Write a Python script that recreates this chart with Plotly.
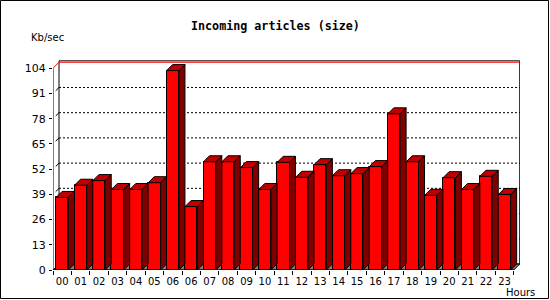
import plotly.graph_objects as go

# ---------------- data ----------------
hour_labels = ["00", "01", "02", "03", "04", "05", "06", "06", "07", "08", "09", "10",
               "11", "12", "13", "14", "15", "16", "17", "18", "19", "20", "21", "22", "23"]
kb_per_sec = [37.4, 43.7, 46.1, 41.5, 41.5, 45.0, 102.8, 32.7, 55.8, 55.8, 52.8, 41.5,
              55.5, 47.8, 54.3, 48.6, 49.7, 53.3, 80.5, 55.8, 38.5, 47.6, 41.5, 48.3, 38.9]
y_ticks = [0, 13, 26, 39, 52, 65, 78, 91, 104]
y_max_line = 104

title_text = "Incoming articles (size)"
y_title = "Kb/sec"
x_title = "Hours"

# ---------------- geometry ----------------
W, H = 550, 300
L, R, T, B = 53, 30, 59, 30
pw, ph = W - L - R, H - T - B
px_per_y = 1.94
x_range = [-0.5, 24.84]
y_range = [0, ph / px_per_y]
px_per_x = pw / (x_range[1] - x_range[0])
dx = 6 / px_per_x          # 3-D depth in data units
dy = 6 / px_per_y
bw = 0.667                 # front face width
n = len(kb_per_sec)
idx = list(range(n))
x_lo, x_hi = -0.5, n - 0.5
panel_top = y_max_line + dy + 1.4 / px_per_y * 1.0 + 0.0

def px_x(p):
    return (p - L) / pw

def px_y(p):
    return (H - B - p) / ph

FONT = "DejaVu Sans"
MONO = "DejaVu Sans Mono"

fig = go.Figure()

# front faces
fig.add_trace(go.Bar(
    x=idx, y=kb_per_sec, width=bw,
    marker=dict(color="#FF0000", line=dict(color="black", width=1)),
    hoverinfo="skip", showlegend=False))

# side faces and top faces
sx, sy, tx, ty = [], [], [], []
for i, v in zip(idx, kb_per_sec):
    r = i + bw / 2
    l = i - bw / 2
    sx += [r, r + dx, r + dx, r, r, None]
    sy += [0, dy, v + dy, v, 0, None]
    tx += [l, l + dx, r + dx, r, l, None]
    ty += [v, v + dy, v + dy, v, v, None]
fig.add_trace(go.Scatter(x=sx, y=sy, mode="lines", fill="toself",
                         fillcolor="#800000", line=dict(color="black", width=1),
                         hoverinfo="skip", showlegend=False))
fig.add_trace(go.Scatter(x=tx, y=ty, mode="lines", fill="toself",
                         fillcolor="#C00000", line=dict(color="black", width=1),
                         hoverinfo="skip", showlegend=False))

shapes = []
# back panel
shapes.append(dict(type="rect", xref="x", yref="y", layer="below",
                   x0=x_lo + dx, x1=x_hi + dx, y0=dy, y1=panel_top,
                   fillcolor="white", line=dict(color="black", width=1)))
# dotted grid on back panel
for v in y_ticks[1:-1]:
    shapes.append(dict(type="line", xref="x", yref="y", layer="below",
                       x0=x_lo + dx, x1=x_hi + dx, y0=v + dy, y1=v + dy,
                       line=dict(color="black", width=1, dash="2px,2px")))
    # small connectors from front axis to back wall
    shapes.append(dict(type="line", xref="x", yref="y", layer="below",
                       x0=x_lo + dx * 0.45, x1=x_lo + dx, y0=v + dy * 0.45, y1=v + dy,
                       line=dict(color="black", width=1)))
    # right side tick
    shapes.append(dict(type="line", xref="x", yref="y", layer="below",
                       x0=x_hi + dx, x1=x_hi + dx + 2 / px_per_x, y0=v + dy, y1=v + dy,
                       line=dict(color="black", width=1)))
# floor
shapes.append(dict(type="path", xref="x", yref="y", layer="below",
                   path=f"M {x_lo},0 L {x_hi},0 L {x_hi + dx},{dy} L {x_lo + dx},{dy} Z",
                   fillcolor="#808080", line=dict(color="black", width=1)))
# red max line
shapes.append(dict(type="line", xref="x", yref="y", layer="below",
                   x0=x_lo + dx, x1=x_hi + dx, y0=y_max_line + dy, y1=y_max_line + dy,
                   line=dict(color="#FF0000", width=1)))
shapes.append(dict(type="line", xref="x", yref="y", layer="below",
                   x0=x_lo, x1=x_lo + dx, y0=y_max_line, y1=y_max_line + dy,
                   line=dict(color="#FF0000", width=1)))
# front axis lines
shapes.append(dict(type="line", xref="x", yref="y", layer="above",
                   x0=x_lo, x1=x_lo, y0=0, y1=y_max_line,
                   line=dict(color="black", width=1)))
shapes.append(dict(type="line", xref="x", yref="y", layer="above",
                   x0=x_lo, x1=x_hi, y0=0, y1=0,
                   line=dict(color="black", width=1)))
# outer frame
shapes.append(dict(type="rect", xref="paper", yref="paper",
                   x0=px_x(0.5), x1=px_x(548.5), y0=px_y(298.5), y1=px_y(0.5),
                   line=dict(color="black", width=1), fillcolor="rgba(0,0,0,0)"))

annotations = [
    dict(text=f"<b>{title_text}</b>", xref="paper", yref="paper",
         x=px_x(275), y=px_y(26), xanchor="center", yanchor="middle",
         showarrow=False, font=dict(family=MONO, size=11.7, color="black")),
    dict(text=y_title, xref="paper", yref="paper",
         x=px_x(29), y=px_y(37), xanchor="left", yanchor="middle",
         showarrow=False, font=dict(family=FONT, size=10, color="black")),
    dict(text=x_title, xref="paper", yref="paper",
         x=px_x(504), y=px_y(292), xanchor="left", yanchor="middle",
         showarrow=False, font=dict(family=FONT, size=10, color="black")),
]

fig.update_layout(
    width=W, height=H,
    margin=dict(l=L, r=R, t=T, b=B, pad=0),
    paper_bgcolor="white", plot_bgcolor="rgba(0,0,0,0)",
    shapes=shapes, annotations=annotations,
    bargap=0, showlegend=False,
    xaxis=dict(range=x_range, tickmode="array", tickvals=idx, ticktext=hour_labels,
               showgrid=False, zeroline=False, showline=False, ticks="",
               ticklabelstandoff=4,
               tickfont=dict(family=FONT, size=10, color="black"),
               minor=dict(tickmode="linear", tick0=-0.5, dtick=1, ticks="outside",
                          ticklen=4, tickcolor="black", tickwidth=1, showgrid=False),
               fixedrange=True),
    yaxis=dict(range=y_range, tickmode="array", tickvals=y_ticks,
               showgrid=False, zeroline=False, showline=False,
               ticks="outside", ticklen=3, tickcolor="black", tickwidth=1,
               ticklabelstandoff=1,
               tickfont=dict(family=FONT, size=11, color="black"),
               fixedrange=True),
)

fig.write_html("out.html", config={"displayModeBar": False})
